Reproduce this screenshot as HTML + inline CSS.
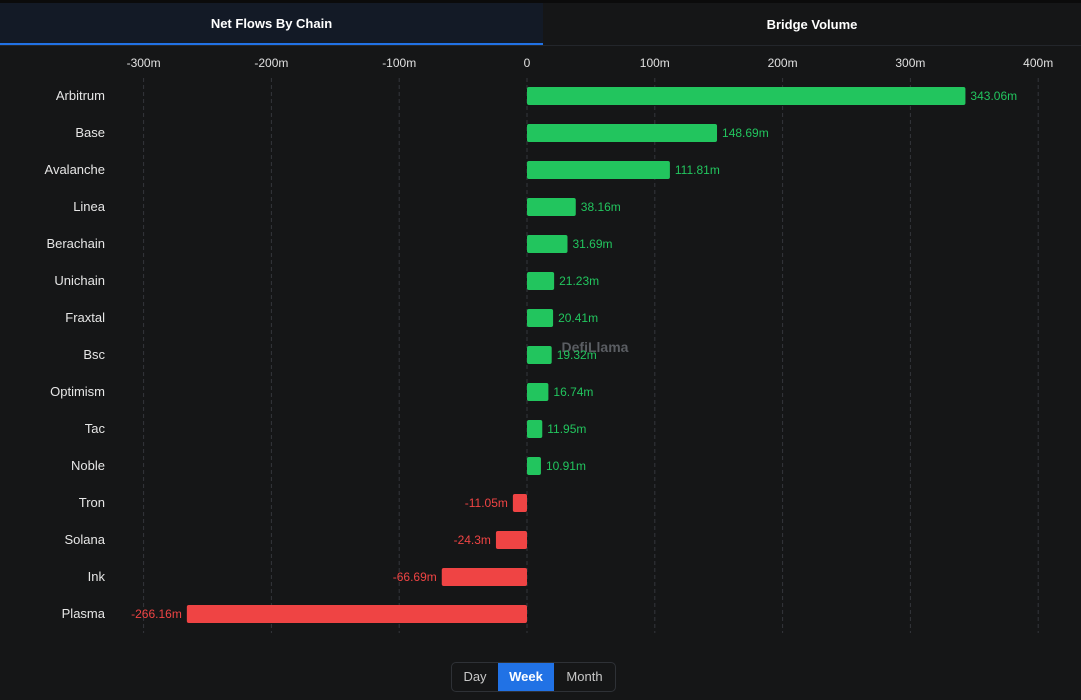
<!DOCTYPE html>
<html><head><meta charset="utf-8"><style>
body{margin:0;width:1081px;height:700px;background:#151617;overflow:hidden;font-family:"Liberation Sans",sans-serif;position:relative}
.tabs{position:absolute;top:3px;left:0;width:1081px;height:42px;border-bottom:1px solid #23262b;background:#151617}
.tab{position:absolute;top:0;height:42px;line-height:44px;text-align:center;color:#fff;font-size:13px;font-weight:bold}
.btns{position:absolute;left:451px;top:662px;width:163px;height:28px;border:1px solid #2e3136;border-radius:5px;overflow:hidden;display:flex;font-size:13px}
.btns div{line-height:28px;text-align:center;color:#c8c8c8}
</style></head><body>
<div style="position:absolute;top:0;left:0;width:1081px;height:3px;background:#0b0b0b"></div>
<div class="tabs">
<div class="tab" style="left:0;width:543px;background:#131a26;border-bottom:2px solid #2172e5;height:40px;line-height:42px">Net Flows By Chain</div>
<div class="tab" style="left:543px;width:538px">Bridge Volume</div>
</div>
<svg id="chart" width="1081" height="650" style="position:absolute;top:0;left:0"></svg>
<div class="btns">
<div style="width:46px">Day</div>
<div style="width:56px;background:#2172e5;color:#fff;font-weight:bold">Week</div>
<div style="width:61px">Month</div>
</div>
<script>
const chains=["Arbitrum","Base","Avalanche","Linea","Berachain","Unichain","Fraxtal","Bsc","Optimism","Tac","Noble","Tron","Solana","Ink","Plasma"];
const flows=[343.06,148.69,111.81,38.16,31.69,21.23,20.41,19.32,16.74,11.95,10.91,-11.05,-24.3,-66.69,-266.16];
const flowLabels=["343.06m","148.69m","111.81m","38.16m","31.69m","21.23m","20.41m","19.32m","16.74m","11.95m","10.91m","-11.05m","-24.3m","-66.69m","-266.16m"];
const ticks=[-300,-200,-100,0,100,200,300,400];
const tickLabels=["-300m","-200m","-100m","0","100m","200m","300m","400m"];
const svg=document.getElementById('chart'),NS='http://www.w3.org/2000/svg';
const x=v=>527+v*1.278, y=i=>96+i*37;
function mk(t,a,txt){const e=document.createElementNS(NS,t);for(const k in a)e.setAttribute(k,a[k]);if(txt!=null)e.textContent=txt;svg.appendChild(e);return e;}
ticks.forEach((t,i)=>{
 const g=mk('line',{x1:x(t),x2:x(t),y1:78,y2:633,stroke:'#33363b','stroke-dasharray':'4,3'});
 
 
 const l=mk('text',{x:x(t),y:67,fill:'#e0e0e0','font-size':12,'text-anchor':'middle'},tickLabels[i]);
 
 
});
const wm=mk('text',{x:595,y:352,fill:'#5a5d62','font-size':14,'font-weight':'bold','text-anchor':'middle'},'DefiLlama');


chains.forEach((c,i)=>{
 const v=flows[i],col=v>=0?'#22c55e':'#ef4444';
 const lb=mk('text',{x:105,y:y(i)+4,fill:'#e6e6e6','font-size':13,'text-anchor':'end'},c);
 
 
 const x0=Math.min(x(0),x(v)),w=Math.abs(x(v)-x(0));
 const b=mk('rect',{x:x0,y:y(i)-9,width:w,height:18,rx:2,fill:col});
 
 
 const vl=mk('text',{x:v>=0?x(v)+5:x(v)-5,y:y(i)+4,fill:col,'font-size':12,'text-anchor':v>=0?'start':'end'},flowLabels[i]);
 
 
});
</script>
</body></html>
